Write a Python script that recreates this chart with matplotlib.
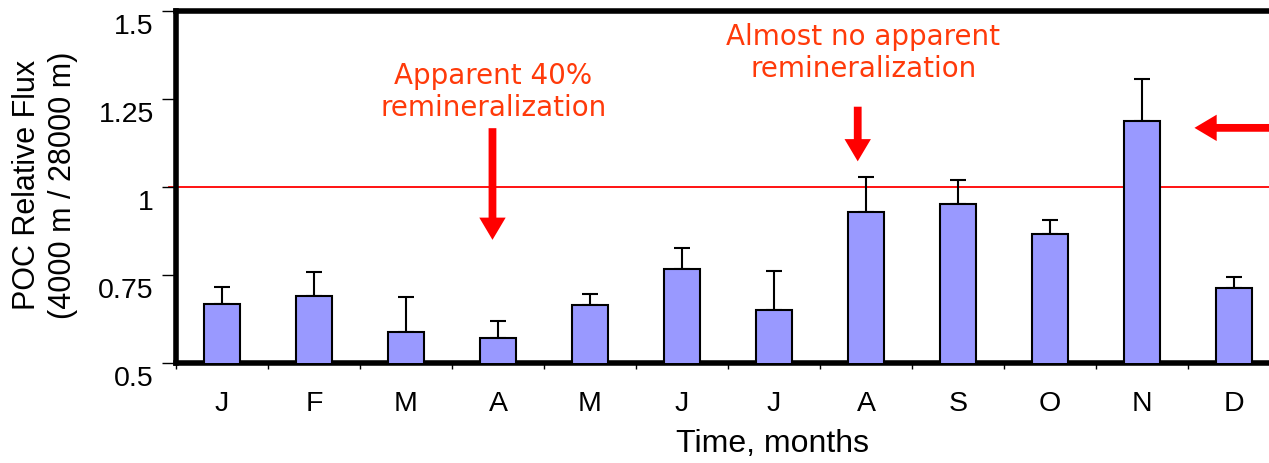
import matplotlib
matplotlib.use("Agg")
import matplotlib.pyplot as plt
import matplotlib.transforms as mtransforms
from matplotlib.patches import FancyArrowPatch
import numpy as np

months = ["J", "F", "M", "A", "M", "J", "J", "A", "S", "O", "N", "D"]
flux_ratio = [0.667, 0.690, 0.588, 0.572, 0.665, 0.766, 0.651, 0.928, 0.952, 0.866, 1.188, 0.714]
flux_err = [0.050, 0.069, 0.100, 0.048, 0.031, 0.060, 0.111, 0.101, 0.067, 0.040, 0.119, 0.030]

note_color = "#ff3a0a"
arrow_color = "#ff0000"

plt.rcParams["font.family"] = ["Liberation Sans", "DejaVu Sans"]

fig = plt.figure(figsize=(12.69, 4.63), dpi=100)
ax = fig.add_axes([176 / 1269, 1 - 363 / 463, 1104 / 1269, 352 / 463])

x = np.arange(len(months))
ax.bar(x, flux_ratio, width=0.4, bottom=0, color="#9999ff", edgecolor="black",
       linewidth=1.5, zorder=3)
ax.errorbar(x, flux_ratio, yerr=[np.zeros(len(x)), flux_err], fmt="none",
            ecolor="black", elinewidth=1.5, capsize=6, capthick=1.5, zorder=2)

# reference ratio of 1
ax.axhline(1.0, xmin=-0.006, color="red", linewidth=1.3, zorder=1, clip_on=False)

ax.set_xlim(-0.5, 11.5)
ax.set_ylim(0.5, 1.5)
ax.set_yticks([0.5, 0.75, 1.0, 1.25, 1.5])
ax.set_yticklabels(["0.5", "0.75", "1", "1.25", "1.5"])
ax.set_xticks(x)
ax.set_xticklabels(months)
ax.set_xticks(np.arange(-0.5, 12, 1), minor=True)

ax.tick_params(axis="y", direction="out", length=10, width=1, labelsize=20.5, pad=6)
ax.tick_params(axis="x", which="major", length=0, labelsize=20.5, pad=20)
ax.tick_params(axis="x", which="minor", direction="out", length=4, width=1)

# y labels sit a little below their ticks
offset = mtransforms.ScaledTranslation(0, -13 / 100, fig.dpi_scale_trans)
for lab in ax.get_yticklabels():
    lab.set_transform(lab.get_transform() + offset)

for side in ["left", "bottom", "top"]:
    ax.spines[side].set_linewidth(4)
ax.spines["right"].set_visible(False)

fig.text(45 / 1269, 1 - 185 / 463, "POC Relative Flux\n(4000 m / 28000 m)",
         rotation=90, ha="center", va="center", fontsize=22, linespacing=1.25)
fig.text(773 / 1269, 1 - 444 / 463, "Time, months", ha="center", va="center",
         fontsize=23)

note_font = ["DejaVu Sans"]
ax.text(2.95, 1.27, "Apparent 40%\nremineralization", ha="center", va="center",
        color=note_color, fontsize=20, linespacing=1.2, family=note_font)
ax.text(6.97, 1.38, "Almost no apparent\nremineralization", ha="center", va="center",
        color=note_color, fontsize=20, linespacing=1.2, family=note_font)

arrow_kw = dict(arrowstyle="simple,head_width=0.95,head_length=0.8,tail_width=0.28",
                mutation_scale=20, color=arrow_color, linewidth=0, zorder=4)
ax.add_patch(FancyArrowPatch((2.94, 1.175), (2.94, 0.842), **arrow_kw))
ax.add_patch(FancyArrowPatch((6.91, 1.236), (6.91, 1.065), **arrow_kw))
ax.add_patch(FancyArrowPatch((11.5, 1.168), (10.54, 1.168), clip_on=False, **arrow_kw))

fig.savefig("out.png", dpi=100)
